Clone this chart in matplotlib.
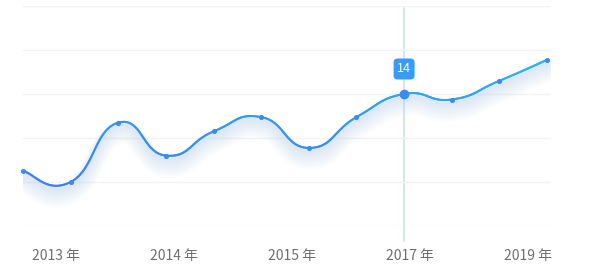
import numpy as np
import matplotlib
matplotlib.use('Agg')
import matplotlib.pyplot as plt
from matplotlib.collections import LineCollection
from matplotlib.colors import LinearSegmentedColormap
from matplotlib.patches import FancyBboxPatch
from matplotlib.transforms import IdentityTransform

plt.rcParams['font.family'] = ['Noto Sans CJK SC', 'DejaVu Sans']

# 数据
values = [10.5, 10.0, 12.7, 11.2, 12.3, 12.95, 11.55, 12.95, 14, 13.75, 14.6, 15.55]
tick_labels = ['2013 年', '2014 年', '2015 年', '2017 年', '2019 年']
tick_pos = [0.69, 3.17, 5.65, 8.13, 10.6]
hl_idx = 8   # 提示框所在的点

W, H = 606, 279


def smooth_curve(xs, ys, k=0.25, n=40):
    # 简单的 bezier 平滑, 类似 echarts smooth
    px, py = [], []
    m = len(xs)
    for i in range(m - 1):
        p0 = np.array([xs[max(i - 1, 0)], ys[max(i - 1, 0)]])
        p1 = np.array([xs[i], ys[i]])
        p2 = np.array([xs[i + 1], ys[i + 1]])
        p3 = np.array([xs[min(i + 2, m - 1)], ys[min(i + 2, m - 1)]])
        c1 = p1 + (p2 - p0) * k
        c2 = p2 - (p3 - p1) * k
        t = np.linspace(0, 1, n)[:, None]
        b = (1 - t) ** 3 * p1 + 3 * (1 - t) ** 2 * t * c1 + 3 * (1 - t) * t ** 2 * c2 + t ** 3 * p2
        px.extend(b[:, 0])
        py.extend(b[:, 1])
    return np.array(px), np.array(py)


fig = plt.figure(figsize=(W / 100, H / 100), dpi=100)
x0, x1 = 23, 551
ytop, ybot = 6, 226
ax = fig.add_axes([x0 / W, (H - ybot) / H, (x1 - x0) / W, (ybot - ytop) / H])
ax.patch.set_alpha(0)
step = (547 - 23) / (len(values) - 1)
ax.set_xlim(0, (x1 - x0) / step)
ax.set_ylim(8, 18)

for s in ax.spines.values():
    s.set_visible(False)
ax.set_yticks(np.arange(8, 19, 2))
ax.yaxis.grid(True, color='#f3f3f3', lw=1)
ax.set_axisbelow(True)
ax.tick_params(left=False, labelleft=False, bottom=False)
ax.set_xticks(tick_pos)
ax.set_xticklabels(tick_labels, fontsize=10, color='#6e6e6e')
ax.tick_params(axis='x', pad=13)

xs = np.arange(len(values))
sx, sy = smooth_curve(xs, values)

# 阴影
for i in range(12):
    off = 0.15 + i * 0.035
    ax.plot(sx, sy - off, color='#3d92f5', lw=2 + i * 1.2, alpha=0.013,
            solid_capstyle='round', zorder=2)

# 渐变线
cmap = LinearSegmentedColormap.from_list('bl', ['#3a84f4', '#25b6f6'])
pts = np.array([sx, sy]).T.reshape(-1, 1, 2)
segs = np.concatenate([pts[:-1], pts[1:]], axis=1)
lc = LineCollection(segs, cmap=cmap, norm=plt.Normalize(10.5, 15.5), lw=1.5, zorder=4,
                    capstyle='round')
lc.set_array((sy[:-1] + sy[1:]) / 2)
ax.add_collection(lc)

ax.scatter(xs, values, s=7, color='#3a8cf5', zorder=5, clip_on=False)

# 十字线 + 提示
fig.add_artist(plt.Line2D([(x0 + hl_idx * step) / W] * 2, [(H - 241) / H, (H - 8) / H],
                          color='#cde0f8', lw=1.2, zorder=0))
ax.scatter([hl_idx], [values[hl_idx]], s=36, color='#3a8cf5', zorder=6, clip_on=False)
px, py = ax.transData.transform((hl_idx, values[hl_idx]))
bx, by = px, py + 25
box = FancyBboxPatch((bx - 8.5, by - 8.5), 17, 17,
                     boxstyle='round,pad=2,rounding_size=4',
                     fc='#3a9bf5', ec='none', transform=IdentityTransform(), zorder=7)
fig.add_artist(box)
fig.text(bx / W, by / H, str(values[hl_idx]), color='white', fontsize=9,
         ha='center', va='center', zorder=8)

fig.savefig('out.png', dpi=100)
